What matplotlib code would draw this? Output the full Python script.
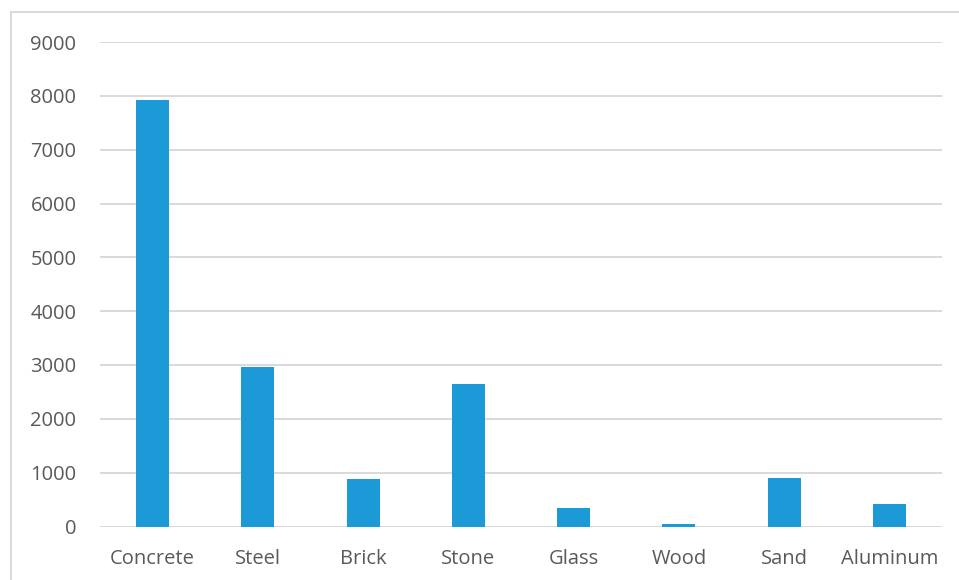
import matplotlib
matplotlib.use("Agg")
import matplotlib.pyplot as plt
from matplotlib.lines import Line2D

categories = ["Concrete", "Steel", "Brick", "Stone", "Glass", "Wood", "Sand", "Aluminum"]
values = [7920, 2955, 875, 2645, 350, 50, 895, 410]
yticks = [0, 1000, 2000, 3000, 4000, 5000, 6000, 7000, 8000, 9000]

plt.rcParams['font.family'] = ['Open Sans', 'DejaVu Sans']

W, H = 959, 580
fig = plt.figure(figsize=(W / 100, H / 100), dpi=100)
ax = fig.add_axes([100 / W, 1 - 526.5 / H, (942 - 100) / W, (526.5 - 42) / H])

x = list(range(len(categories)))
ax.bar(x, values, width=0.315, color="#1B9AD7", zorder=3)
ax.set_xlim(-0.5, len(categories) - 0.5)
ax.set_ylim(0, 9000)
ax.set_yticks(yticks)
ax.set_yticklabels([str(t) for t in yticks])
ax.set_xticks(x)
ax.set_xticklabels(categories)

for s in ax.spines.values():
    s.set_visible(False)
ax.yaxis.grid(True, color="#D9D9D9", linewidth=1.4, zorder=0)
ax.tick_params(axis="both", length=0, colors="#595959", labelsize=14.5)
ax.tick_params(axis="y", pad=17)
ax.tick_params(axis="x", pad=16.5)

# chart-area border (top and left visible)
fig.add_artist(Line2D([11 / W, 1.0], [1 - 12 / H, 1 - 12 / H], color="#D9D9D9", linewidth=1.4, transform=fig.transFigure))
fig.add_artist(Line2D([11 / W, 11 / W], [1 - 12 / H, 0.0], color="#D9D9D9", linewidth=1.4, transform=fig.transFigure))

fig.savefig("out.png", dpi=100)
